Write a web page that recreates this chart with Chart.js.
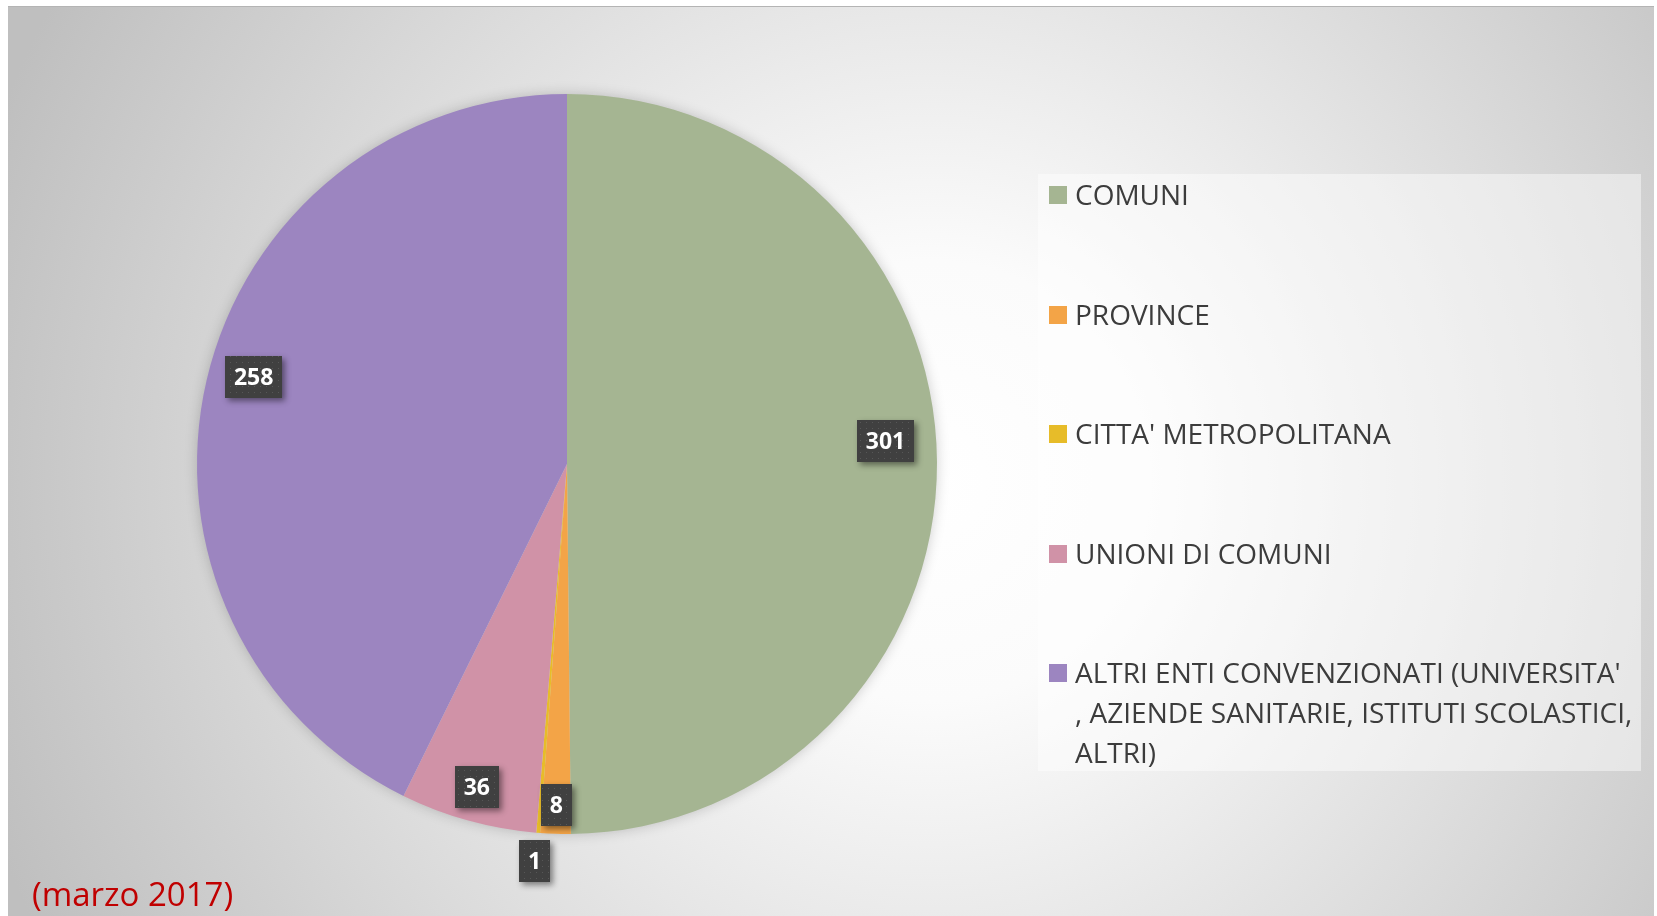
<!DOCTYPE html>
<html>
<head>
<meta charset="utf-8">
<script src="https://cdn.jsdelivr.net/npm/chart.js@4.4.1/dist/chart.umd.min.js"></script>
<style>
  html, body { margin: 0; padding: 0; background: #fff; }
  body { width: 1657px; height: 916px; position: relative; overflow: hidden; font-family: "Open Sans", sans-serif; }
  #bg {
    position: absolute; left: 8px; top: 6px; width: 1646px; height: 910px;
    border-top: 1px solid #b4b4b4; box-sizing: border-box;
    background: radial-gradient(circle at 922px 474px, #ffffff 0px, #fbfbfb 220px, #bfbfbf 1000px);
  }
  #myPie { position: absolute; left: 0; top: 0; }
  #legend {
    position: absolute; left: 1038px; top: 174px; width: 603px; height: 597px;
    background: rgba(255, 255, 255, 0.45);
  }
  .item { position: absolute; left: 0; width: 600px; font-size: 28px; line-height: 40px; color: #3c3c3c; }
  .item .sw { position: absolute; left: 11px; top: 12px; width: 18px; height: 18px; }
  .item .tx { position: absolute; left: 37px; white-space: nowrap; }
  #note { position: absolute; left: 32px; top: 872px; font-size: 33px; line-height: 44px; color: #c00000; }
</style>
</head>
<body>
<div id="bg"></div>
<canvas id="myPie" width="1657" height="916"></canvas>
<div id="legend"></div>
<div id="note">(marzo 2017)</div>
<script>
// dati
const categorie = [
  'COMUNI',
  'PROVINCE',
  "CITTA' METROPOLITANA",
  'UNIONI DI COMUNI',
  ["ALTRI ENTI CONVENZIONATI (UNIVERSITA'", ', AZIENDE SANITARIE, ISTITUTI SCOLASTICI,', 'ALTRI)']
];
const valori = [301, 8, 1, 36, 258];
const colori = ['#A5B592', '#F3A447', '#E7BC29', '#D092A7', '#9C85C0'];

// posizione etichette (frazione del raggio, spostamento angolare in gradi)
const etichettaRaggio = [0.863, 0.922, 1.077, 0.906, 0.879];
const etichettaAngolo = [-3.8, 0, 0.2, 0.1, 2.4];

// legenda html
const legendEl = document.getElementById('legend');
categorie.forEach((c, i) => {
  const item = document.createElement('div');
  item.className = 'item';
  item.style.top = (i * 119.6) + 'px';
  const sw = document.createElement('div');
  sw.className = 'sw';
  sw.style.background = colori[i];
  const tx = document.createElement('div');
  tx.className = 'tx';
  tx.innerHTML = (Array.isArray(c) ? c : [c]).join('<br>');
  item.appendChild(sw);
  item.appendChild(tx);
  legendEl.appendChild(item);
});

// motivo a puntini per le etichette
const pat = document.createElement('canvas');
pat.width = 6; pat.height = 6;
const pctx = pat.getContext('2d');
pctx.fillStyle = '#404040';
pctx.fillRect(0, 0, 6, 6);
pctx.fillStyle = '#575757';
pctx.fillRect(2, 2, 1, 1);

const ombraTorta = {
  id: 'ombraTorta',
  beforeDatasetsDraw(chart) {
    const arc = chart.getDatasetMeta(0).data[0];
    if (!arc) return;
    const ctx = chart.ctx;
    ctx.save();
    ctx.shadowColor = 'rgba(0,0,0,0.22)';
    ctx.shadowBlur = 14;
    ctx.fillStyle = '#d8d8d8';
    ctx.beginPath();
    ctx.arc(arc.x, arc.y, arc.outerRadius - 1, 0, Math.PI * 2);
    ctx.fill();
    ctx.restore();
  }
};

const etichette = {
  id: 'etichette',
  afterDatasetsDraw(chart) {
    const ctx = chart.ctx;
    const meta = chart.getDatasetMeta(0);
    ctx.save();
    ctx.font = 'bold 23px "Open Sans"';
    meta.data.forEach((arc, i) => {
      const mid = (arc.startAngle + arc.endAngle) / 2 + etichettaAngolo[i] * Math.PI / 180;
      const r = arc.outerRadius * etichettaRaggio[i];
      const cx = arc.x + Math.cos(mid) * r;
      const cy = arc.y + Math.sin(mid) * r;
      const txt = String(valori[i]);
      const w = Math.round(ctx.measureText(txt).width + 18);
      const h = 42;
      const x0 = Math.round(cx - w / 2), y0 = Math.round(cy - h / 2);
      ctx.save();
      ctx.shadowColor = 'rgba(0,0,0,0.45)';
      ctx.shadowBlur = 6;
      ctx.shadowOffsetX = 3;
      ctx.shadowOffsetY = 3;
      ctx.fillStyle = '#404040';
      ctx.fillRect(x0, y0, w, h);
      ctx.restore();
      ctx.fillStyle = ctx.createPattern(pat, 'repeat');
      ctx.fillRect(x0, y0, w, h);
      ctx.fillStyle = '#ffffff';
      ctx.textAlign = 'center';
      ctx.textBaseline = 'alphabetic';
      ctx.fillText(txt, cx, cy + 8);
    });
    ctx.restore();
  }
};

const ctx_pie = document.getElementById('myPie').getContext('2d');
const myPie = new Chart(ctx_pie, {
  type: 'pie',
  data: {
    labels: categorie,
    datasets: [{
      data: valori,
      backgroundColor: colori,
      borderWidth: 0
    }]
  },
  options: {
    responsive: false,
    maintainAspectRatio: false,
    animation: false,
    devicePixelRatio: 1,
    layout: { padding: { left: 197, right: 720, top: 94, bottom: 82 } },
    plugins: {
      legend: { display: false },
      tooltip: { enabled: false }
    }
  },
  plugins: [ombraTorta, etichette]
});
</script>
</body>
</html>
